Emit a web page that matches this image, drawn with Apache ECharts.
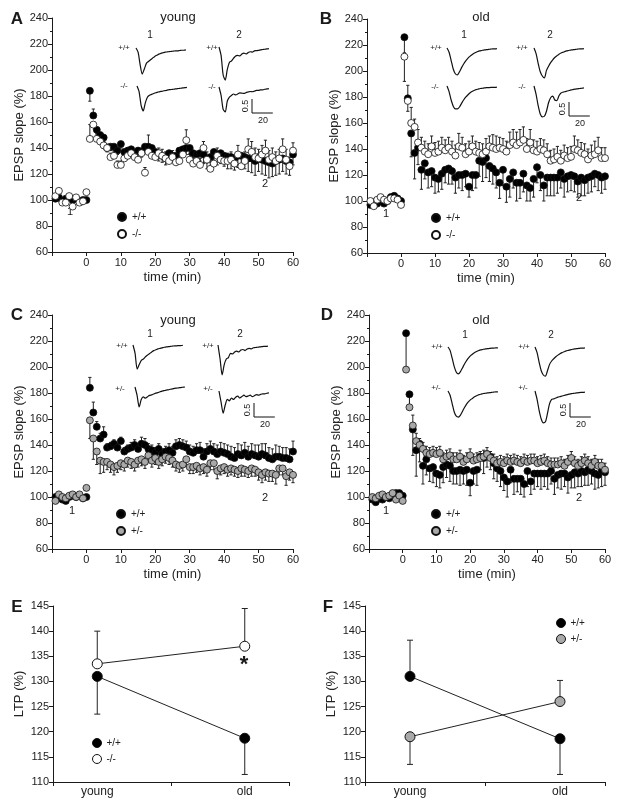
<!DOCTYPE html>
<html>
<head>
<meta charset="utf-8">
<script src="https://cdn.jsdelivr.net/npm/echarts@6/dist/echarts.min.js"></script>
<style>
  html, body { margin: 0; padding: 0; background: #fff; }
  #chart { width: 624px; height: 806px; }
</style>
</head>
<body>
<div id="chart"></div>
<script>
// time points (min): baseline -9..0, then 1..60
const times = [-9, -8, -7, -6, -5, -4, -3, -2, -1, 0,
  1, 2, 3, 4, 5, 6, 7, 8, 9, 10, 11, 12, 13, 14, 15, 16, 17, 18, 19, 20,
  21, 22, 23, 24, 25, 26, 27, 28, 29, 30, 31, 32, 33, 34, 35, 36, 37, 38, 39, 40,
  41, 42, 43, 44, 45, 46, 47, 48, 49, 50, 51, 52, 53, 54, 55, 56, 57, 58, 59, 60];

// panel A (young, +/+ vs -/-)
const aWt = [101, 102, 99, 101, 102, 100, 101, 99, 100, 100,
  184, 165, 154, 150, 148, 140, 141, 141, 138, 143, 137, 138, 139, 136, 138, 137, 141, 141, 140, 137,
  135, 134, 132, 136, 134, 134, 138, 139, 140, 140, 136, 135, 136, 135, 131, 133, 137, 135, 136, 134,
  133, 133, 132, 134, 134, 133, 132, 132, 130, 133, 131, 130, 129, 128, 130, 131, 132, 130, 129, 135];
const aWtErr = [-8, 5, -3, -3, -3, -3, -3, -3, -3, -3, -4, -4, -4, -5, -4, -4, -4, -4, -5, -5,
  -5, -5, -5, -5, -5, -5, -5, -5, -5, -5, -6, -6, -6, -7, -7, -7, -7, -8, -8, -8,
  -9, -9, -9, -9, -10, -9, -10, -11, -11, -11, -11, -11, -12, -10, -11, -11, -10, -10, -10, -8];
const aKo = [103, 107, 98, 98, 103, 95, 102, 98, 99, 106,
  147, 158, 147, 145, 142, 140, 133, 134, 127, 127, 132, 134, 136, 133, 131, 136, 121, 137, 134, 133,
  136, 134, 132, 130, 133, 129, 130, 135, 146, 131, 128, 130, 127, 140, 131, 124, 128, 134, 131, 130,
  130, 131, 128, 135, 126, 130, 139, 137, 133, 132, 135, 138, 131, 133, 130, 132, 139, 131, 126, 138];
const aKoErr = [11, 0, 3, 3, 3, 3, 3, 3, 3, 3, 3, 4, 4, 4, 5, 4, 4, 13, 5, 4,
  4, 5, 5, 5, 5, 5, 5, 5, 8, 5, 5, 5, 5, 5, 6, 6, 6, 6, 6, 6,
  6, 6, 6, 7, 7, 7, 8, 8, 7, 7, 7, 8, 7, 7, 7, 7, 8, 8, 7, 6];

// panel B (old, +/+ vs -/-)
const bWt = [97, 99, 98, 100, 98, 100, 103, 104, 102, 100,
  226, 179, 152, 137, 141, 124, 129, 122, 123, 118, 117, 121, 124, 125, 123, 118, 120, 120, 121, 111,
  120, 120, 131, 130, 133, 127, 125, 122, 114, 124, 111, 117, 122, 114, 114, 121, 112, 110, 117, 126,
  120, 112, 118, 118, 118, 118, 122, 117, 119, 120, 119, 115, 118, 116, 118, 119, 121, 120, 118, 119];
const bWtErr = [-12, -10, -18, -20, -13, -15, -12, -12, -12, -12, -10, -12, -10, -12, -10, -12, -10, -12, -10, -8,
  -12, -10, -12, -15, -15, -12, -12, -12, -12, -12, -12, -14, -12, -14, -12, -14, -12, -10, -14, -12,
  -12, -12, -14, -14, -14, -12, -12, -14, -12, -12, -12, -12, -14, -12, -12, -12, -10, -12, -12, -10];
const bKo = [100, 96, 101, 103, 101, 100, 102, 102, 101, 97,
  211, 177, 160, 157, 145, 141, 138, 136, 142, 137, 138, 141, 139, 141, 138, 135, 142, 141, 136, 138,
  142, 138, 137, 136, 138, 142, 141, 140, 141, 140, 138, 143, 145, 143, 145, 147, 140, 145, 139, 138,
  140, 139, 136, 131, 132, 134, 131, 135, 133, 134, 140, 139, 137, 136, 132, 135, 136, 139, 133, 133];
const bKoErr = [-19, 12, 12, 6, 10, 8, 8, 8, 8, 8, 8, 8, 8, 8, 8, 8, 10, 8, 8, 8,
  8, 8, 8, 8, 10, 8, 10, 10, 8, 8, 8, 10, 10, 10, 10, 10, 8, 10, 8, 8,
  8, 8, 8, 8, 8, 8, 8, 8, 8, 8, 10, 8, 8, 8, 8, 8, 10, 10, 8, 8];

// panel C (young, +/+ vs +/-)
const cWt = [100, 101, 98, 97, 100, 101, 100, 101, 99, 100,
  184, 165, 154, 145, 148, 138, 139, 141, 138, 143, 135, 137, 138, 140, 137, 141, 140, 137, 136, 134,
  137, 133, 135, 136, 134, 139, 140, 139, 138, 135, 134, 136, 136, 131, 135, 137, 135, 133, 135, 134,
  133, 131, 130, 133, 132, 134, 131, 133, 132, 131, 133, 132, 130, 129, 131, 131, 130, 130, 129, 135];
const cWtErr = [8, 8, 4, 4, 6, 3, 3, 3, 3, 3, 3, 3, 4, 4, 4, 5, 5, 4, 4, 4,
  4, 4, 4, 5, 5, 5, 5, 5, 5, 5, 5, 5, 6, 6, 6, 6, 6, 7, 7, 7,
  7, 8, 8, 8, 8, 8, 8, 8, 8, 9, 8, 9, 8, 8, 9, 8, 8, 8, 8, 8];
const cHet = [97, 102, 100, 99, 101, 102, 100, 102, 99, 107,
  159, 145, 135, 128, 127, 127, 125, 123, 124, 126, 125, 128, 127, 125, 128, 129, 127, 132, 128, 130,
  127, 129, 131, 130, 128, 125, 124, 125, 129, 123, 123, 124, 122, 123, 121, 126, 126, 120, 122, 123,
  121, 122, 121, 120, 122, 121, 120, 122, 121, 119, 117, 119, 118, 118, 117, 122, 122, 116, 119, 117];
const cHetErr = [-14, -16, -10, -10, -8, -6, -6, -6, -5, -5, -5, -5, -5, -5, -5, -5, -5, -5, -5, -5,
  -5, -5, -5, -5, -5, -5, -5, -5, -5, -5, -5, -5, -5, -5, -5, -5, -5, -6, -5, -5,
  -5, -5, -5, -5, -6, -5, -5, -6, -5, -6, -6, -6, -6, -6, -7, -5, -5, -7, -6, -6];

// panel D (old, +/+ vs +/-)
const dWt = [98, 96, 99, 98, 100, 99, 101, 103, 103, 101,
  226, 179, 152, 136, 141, 124, 129, 122, 123, 118, 117, 123, 125, 124, 120, 120, 121, 120, 121, 111,
  120, 121, 131, 130, 133, 131, 126, 122, 120, 115, 112, 121, 114, 114, 114, 110, 120, 112, 118, 118,
  118, 118, 118, 120, 114, 117, 118, 118, 115, 117, 119, 118, 120, 119, 121, 120, 118, 117, 120, 119];
const dWtErr = [-27, -12, -20, -20, -14, -14, -12, -10, -12, -10, -10, -12, -10, -12, -10, -10, -12, -10, -12, -10,
  -10, -12, -10, -12, -10, -10, -12, -10, -12, -10, -12, -10, -12, -10, -12, -10, -12, -10, -12, -10,
  -12, -10, -12, -10, -12, -10, -12, -10, -12, -10, -12, -10, -12, -10, -12, -10, -12, -10, -12, -10];
const dHet = [100, 99, 101, 102, 100, 101, 103, 98, 101, 97,
  198, 169, 155, 143, 140, 137, 134, 133, 134, 133, 134, 129, 131, 132, 129, 129, 131, 127, 129, 132,
  128, 129, 130, 131, 133, 130, 128, 126, 127, 126, 128, 127, 128, 127, 126, 128, 127, 128, 128, 126,
  127, 128, 126, 125, 125, 125, 126, 124, 127, 130, 126, 124, 126, 128, 126, 124, 127, 124, 124, 121];
const dHetErr = [0, 10, 8, 6, 5, 5, 5, 5, 5, 5, 5, 5, 5, 5, 5, 5, 5, 5, 5, 5,
  5, 5, 5, 5, 5, 5, 5, 5, 5, 5, 5, 5, 5, 5, 5, 5, 5, 5, 5, 5,
  5, 5, 5, 5, 5, 5, 5, 5, 5, 5, 5, 5, 5, 5, 5, 5, 5, 5, 5, 5];

// panels E and F (LTP %)
const ltpGroups = ['young', 'old'];
const ltpX = [0, 1];
const eWt = [131, 118.7];
const eWtErr = [-7.5, -7.2];
const eKo = [133.5, 137];
const eKoErr = [6.5, 7.5];
const fWt = [131, 118.6];
const fWtErr = [7.2, -7.1];
const fHet = [119, 126];
const fHetErr = [-5.5, 4.2];

// inset EPSP traces (mV), sampled every 2 ms
const traceMs = [0, 2, 4, 6, 8, 10, 12, 14, 16, 18, 20, 22, 24, 26, 28, 30, 32, 34, 36, 38, 40, 42, 44, 46, 48];
const trA1wt = [0, -0.15, -0.6, -0.93, -0.75, -0.55, -0.48, -0.42, -0.36, -0.3, -0.26, -0.22, -0.19, -0.17, -0.15, -0.14, -0.13, -0.12, -0.11, -0.1, -0.1, -0.09, -0.08, -0.08, -0.07];
const trA1ko = [0, -0.2, -0.7, -0.89, -0.6, -0.4, -0.33, -0.3, -0.27, -0.24, -0.22, -0.2, -0.19, -0.17, -0.16, -0.14, -0.13, -0.12, -0.11, -0.1, -0.09, -0.08, -0.07, -0.06, -0.05];
const trA2wt = [0, -0.3, -1.0, -1.18, -0.8, -0.55, -0.5, -0.4, -0.32, -0.3, -0.32, -0.25, -0.22, -0.25, -0.2, -0.17, -0.18, -0.14, -0.13, -0.12, -0.1, -0.09, -0.08, -0.07, -0.06];
const trA2ko = [0, -0.3, -0.8, -0.89, -0.5, -0.36, -0.3, -0.25, -0.28, -0.25, -0.21, -0.22, -0.23, -0.2, -0.18, -0.16, -0.17, -0.15, -0.12, -0.12, -0.1, -0.1, -0.08, -0.07, -0.06];
const trB1wt = [0, -0.15, -0.45, -0.75, -0.92, -0.96, -0.85, -0.7, -0.57, -0.46, -0.37, -0.3, -0.24, -0.19, -0.15, -0.12, -0.1, -0.08, -0.07, -0.06, -0.05, -0.04, -0.03, -0.03, -0.02];
const trB1ko = [0, -0.2, -0.5, -0.72, -0.82, -0.82, -0.75, -0.62, -0.5, -0.4, -0.32, -0.25, -0.2, -0.16, -0.13, -0.11, -0.09, -0.08, -0.07, -0.06, -0.06, -0.05, -0.05, -0.05, -0.04];
const trB2wt = [0, -0.2, -0.55, -0.85, -1.0, -1.07, -0.8, -0.65, -0.52, -0.42, -0.34, -0.28, -0.22, -0.18, -0.15, -0.12, -0.1, -0.08, -0.07, -0.06, -0.05, -0.04, -0.03, -0.03, -0.02];
const trB2ko = [0, -0.3, -0.7, -1.0, -1.1, -1.08, -0.9, -0.6, -0.42, -0.36, -0.5, -0.52, -0.35, -0.25, -0.22, -0.2, -0.18, -0.16, -0.14, -0.12, -0.11, -0.1, -0.09, -0.08, -0.07];
const trC1wt = [0, -0.3, -0.86, -0.7, -0.55, -0.5, -0.42, -0.36, -0.3, -0.25, -0.2, -0.17, -0.14, -0.12, -0.1, -0.08, -0.07, -0.06, -0.05, -0.04, -0.03, -0.03, -0.02, -0.02, -0.01];
const trC1het = [0, -0.3, -0.71, -0.45, -0.35, -0.4, -0.35, -0.3, -0.28, -0.25, -0.22, -0.2, -0.17, -0.15, -0.13, -0.11, -0.1, -0.08, -0.07, -0.05, -0.04, -0.03, -0.02, -0.01, 0];
const trC2wt = [0, -0.5, -1.07, -0.7, -0.5, -0.45, -0.3, -0.32, -0.25, -0.22, -0.25, -0.18, -0.16, -0.2, -0.14, -0.12, -0.14, -0.1, -0.09, -0.08, -0.07, -0.06, -0.05, -0.05, -0.04];
const trC2het = [0, -0.4, -0.79, -0.5, -0.3, -0.35, -0.25, -0.3, -0.22, -0.18, -0.25, -0.2, -0.15, -0.2, -0.18, -0.15, -0.2, -0.17, -0.13, -0.15, -0.12, -0.1, -0.1, -0.08, -0.07];
const trD1wt = [0, -0.12, -0.4, -0.7, -0.9, -0.96, -0.88, -0.74, -0.6, -0.48, -0.38, -0.3, -0.24, -0.19, -0.15, -0.12, -0.1, -0.08, -0.07, -0.06, -0.05, -0.04, -0.04, -0.03, -0.03];
const trD1het = [0, -0.15, -0.45, -0.75, -0.9, -0.93, -0.86, -0.72, -0.58, -0.46, -0.37, -0.3, -0.25, -0.2, -0.16, -0.13, -0.11, -0.09, -0.08, -0.07, -0.06, -0.05, -0.04, -0.03, -0.03];
const trD2wt = [0, -0.2, -0.55, -0.85, -1.0, -1.04, -0.85, -0.62, -0.5, -0.42, -0.35, -0.29, -0.24, -0.2, -0.17, -0.14, -0.12, -0.1, -0.08, -0.07, -0.06, -0.05, -0.04, -0.04, -0.03];
const trD2het = [0, -0.3, -0.7, -1.0, -1.14, -1.1, -0.8, -0.45, -0.3, -0.28, -0.25, -0.22, -0.2, -0.18, -0.16, -0.14, -0.12, -0.1, -0.09, -0.08, -0.07, -0.06, -0.05, -0.05, -0.04];
// scale bar: 20 ms, 0.5 mV
const scaleX = [0, 0, 20];
const scaleY = [0.5, 0, 0];

const FONT = '"Liberation Sans", Arial, sans-serif';
const INK = '#1a1a1a';
const PX_MS = 1.04;
const PX_MV = 28;

const option = {
  animation: false,
  backgroundColor: '#fff',
  grid: [], xAxis: [], yAxis: [], series: [], legend: [], graphic: []
};

function addGrid(box, xa, ya) {
  option.grid.push(Object.assign({ outerBoundsMode: 'none', containLabel: false }, box));
  const gi = option.grid.length - 1;
  option.xAxis.push(Object.assign({ gridIndex: gi }, xa));
  option.yAxis.push(Object.assign({ gridIndex: gi }, ya));
  return gi;
}

function axisStyle(extra) {
  return Object.assign({
    type: 'value',
    axisLine: { show: true, onZero: false, lineStyle: { color: INK, width: 1 } },
    axisTick: { show: true, length: 4, lineStyle: { color: INK } },
    axisLabel: { color: '#222', fontSize: 11, fontFamily: FONT, margin: 4 },
    splitLine: { show: false },
    nameTextStyle: { color: '#222', fontSize: 13, fontFamily: FONT }
  }, extra);
}

function errSeries(gi, xs, ys, errs, offset, cap) {
  const data = [];
  errs.forEach((e, k) => { if (e) data.push([xs[k + offset], ys[k + offset], e]); });
  return {
    type: 'custom', xAxisIndex: gi, yAxisIndex: gi, z: 1, silent: true, clip: false,
    data: data, encode: { x: 0, y: 1 },
    renderItem: function (params, api) {
      const x = api.value(0), y = api.value(1), e = api.value(2);
      const a = api.coord([x, y]);
      const b = api.coord([x, y + e]);
      const st = { stroke: '#222', lineWidth: 1 };
      return {
        type: 'group', children: [
          { type: 'line', shape: { x1: a[0], y1: a[1], x2: b[0], y2: b[1] }, style: st },
          { type: 'line', shape: { x1: b[0] - cap, y1: b[1], x2: b[0] + cap, y2: b[1] }, style: st }
        ]
      };
    }
  };
}

function epspPanel(box, groups, legendPos) {
  const gi = addGrid(box,
    axisStyle({
      min: -10, max: 60, interval: 10,
      axisLabel: { color: '#222', fontSize: 11, fontFamily: FONT, margin: 5, formatter: v => (v < 0 ? '' : v) },
      name: 'time (min)', nameLocation: 'middle', nameGap: 19
    }),
    axisStyle({
      min: 60, max: 240, interval: 20,
      minorTick: { show: true, splitNumber: 2, length: 2, lineStyle: { color: INK } },
      name: 'EPSP slope (%)', nameLocation: 'middle', nameGap: 26
    }));
  groups.forEach(g => {
    option.series.push(errSeries(gi, times, g.vals, g.errs, 10, 1.6));
    option.series.push({
      type: 'scatter', name: g.name, xAxisIndex: gi, yAxisIndex: gi, z: 3,
      symbol: 'circle', symbolSize: 7,
      itemStyle: { color: g.fill, borderColor: '#111', borderWidth: 0.8, opacity: 1 },
      data: times.map((t, k) => [t, g.vals[k]])
    });
  });
  option.legend.push({
    left: legendPos[0], top: legendPos[1], orient: 'vertical', padding: 0,
    itemGap: 7, itemWidth: 8, itemHeight: 8, selectedMode: false,
    textStyle: { color: '#222', fontSize: 10, fontFamily: FONT, padding: [0, 0, 0, 1] },
    data: groups.map(g => g.name)
  });
}

function ltpPanel(box, groups, legendPos) {
  const gi = addGrid(box,
    axisStyle({
      min: -0.3, max: 1.3, interval: 0.8,
      axisTick: { show: true, length: 4, lineStyle: { color: INK } },
      axisLabel: {
        color: '#222', fontSize: 12, fontFamily: FONT, margin: 4,
        customValues: ltpX, formatter: v => ltpGroups[Math.round(v)]
      }
    }),
    axisStyle({
      min: 110, max: 145, interval: 5,
      name: 'LTP (%)', nameLocation: 'middle', nameGap: 27
    }));
  groups.forEach(g => {
    option.series.push(errSeries(gi, ltpX, g.vals, g.errs, 0, 3));
    option.series.push({
      type: 'line', name: g.name, xAxisIndex: gi, yAxisIndex: gi, z: 3,
      symbol: 'circle', symbolSize: 10, showSymbol: true,
      lineStyle: { color: '#222', width: 1 },
      itemStyle: { color: g.fill, borderColor: '#111', borderWidth: 1 },
      data: ltpX.map((x, k) => [x, g.vals[k]])
    });
  });
  option.legend.push({
    left: legendPos[0], top: legendPos[1], orient: 'vertical', padding: 0,
    itemGap: 6, itemWidth: 9, itemHeight: 9, selectedMode: false,
    textStyle: { color: '#222', fontSize: 10, fontFamily: FONT },
    data: groups.map(g => ({ name: g.name, icon: 'circle', itemStyle: { color: g.fill, borderColor: '#111', borderWidth: 1 } }))
  });
}

function trace(left, startY, vals) {
  const gi = addGrid({ left: left, top: startY - 0.1 * PX_MV, width: 48 * PX_MS, height: 1.35 * PX_MV },
    { type: 'value', min: 0, max: 48, show: false },
    { type: 'value', min: -1.25, max: 0.1, show: false });
  option.series.push({
    type: 'line', xAxisIndex: gi, yAxisIndex: gi, silent: true, clip: false,
    symbol: 'none', smooth: 0.25,
    lineStyle: { color: '#111', width: 1.2 },
    data: traceMs.map((t, k) => [t, vals[k]])
  });
}

function scaleBar(cx, cy) {
  const gi = addGrid({ left: cx, top: cy - 0.5 * PX_MV, width: 20 * PX_MS, height: 0.5 * PX_MV },
    { type: 'value', min: 0, max: 20, show: false },
    { type: 'value', min: 0, max: 0.5, show: false });
  option.series.push({
    type: 'line', xAxisIndex: gi, yAxisIndex: gi, silent: true, clip: false, symbol: 'none',
    lineStyle: { color: '#111', width: 1 },
    data: scaleX.map((x, k) => [x, scaleY[k]])
  });
  label('0.5', cx - 6, cy - 7, 9, false, Math.PI / 2);
  label('20', cx + 11, cy + 8, 9);
}

function label(text, x, y, size, bold, rot) {
  option.graphic.push({
    type: 'text', x: x, y: y, rotation: rot || 0, silent: true,
    style: {
      text: text, fill: '#1a1a1a', textAlign: 'center', textVerticalAlign: 'middle',
      font: (bold ? 'bold ' : '') + size + 'px ' + FONT
    }
  });
}

const BLACK = '#000', WHITE = '#fff', GREY = '#a9a9a9';

// main time-course panels
epspPanel({ left: 52, top: 18, width: 241, height: 234 },
  [{ name: '+/+', vals: aWt, errs: aWtErr, fill: BLACK }, { name: '-/-', vals: aKo, errs: aKoErr, fill: WHITE }],
  [117, 212]);
epspPanel({ left: 367, top: 19, width: 238, height: 234 },
  [{ name: '+/+', vals: bWt, errs: bWtErr, fill: BLACK }, { name: '-/-', vals: bKo, errs: bKoErr, fill: WHITE }],
  [431, 213]);
epspPanel({ left: 52, top: 315, width: 241, height: 234 },
  [{ name: '+/+', vals: cWt, errs: cWtErr, fill: BLACK }, { name: '+/-', vals: cHet, errs: cHetErr, fill: GREY }],
  [116, 509]);
epspPanel({ left: 369, top: 315, width: 236, height: 234 },
  [{ name: '+/+', vals: dWt, errs: dWtErr, fill: BLACK }, { name: '+/-', vals: dHet, errs: dHetErr, fill: GREY }],
  [431, 509]);

// LTP summary panels
ltpPanel({ left: 53, top: 606, width: 236, height: 176 },
  [{ name: '+/+', vals: eWt, errs: eWtErr, fill: BLACK }, { name: '-/-', vals: eKo, errs: eKoErr, fill: WHITE }],
  [92, 738]);
ltpPanel({ left: 365, top: 606, width: 240, height: 176 },
  [{ name: '+/+', vals: fWt, errs: fWtErr, fill: BLACK }, { name: '+/-', vals: fHet, errs: fHetErr, fill: GREY }],
  [556, 618]);

// inset traces
trace(136, 48, trA1wt); trace(137, 86, trA1ko); trace(219, 47, trA2wt); trace(219, 87, trA2ko);
trace(447, 48, trB1wt); trace(447, 86, trB1ko); trace(534, 48, trB2wt); trace(534, 86, trB2ko);
trace(133, 345, trC1wt); trace(135, 387, trC1het); trace(218, 345, trC2wt); trace(219, 391, trC2het);
trace(448, 347, trD1wt); trace(448, 391, trD1het); trace(535, 347, trD2wt); trace(535, 391, trD2het);
scaleBar(252, 113); scaleBar(569, 116); scaleBar(254, 417); scaleBar(570, 417);

// panel letters and titles
label('A', 17, 19, 17, true); label('B', 326, 19, 17, true);
label('C', 17, 315, 17, true); label('D', 327, 315, 17, true);
label('E', 17, 607, 17, true); label('F', 328, 607, 17, true);
label('young', 178, 17, 13); label('old', 481, 17, 13);
label('young', 178, 320, 13); label('old', 481, 320, 13);

// trace annotations
[[150, 35, '1'], [239, 35, '2'], [464, 35, '1'], [550, 35, '2'],
 [150, 334, '1'], [240, 334, '2'], [465, 335, '1'], [551, 335, '2']].forEach(p => label(p[2], p[0], p[1], 10));
[[124, 48, '+/+'], [124, 86, '-/-'], [212, 48, '+/+'], [212, 87, '-/-'],
 [436, 48, '+/+'], [435, 87, '-/-'], [522, 48, '+/+'], [522, 87, '-/-'],
 [122, 346, '+/+'], [120, 389, '+/-'], [208, 346, '+/+'], [208, 389, '+/-'],
 [437, 347, '+/+'], [436, 388, '+/-'], [524, 347, '+/+'], [523, 388, '+/-']].forEach(p => label(p[2], p[0], p[1], 8));
// sampling-point labels in main plots
[[70, 212, '1'], [265, 184, '2'], [386, 214, '1'], [579, 198, '2'],
 [72, 511, '1'], [265, 498, '2'], [386, 511, '1'], [579, 498, '2']].forEach(p => label(p[2], p[0], p[1], 11));
label('*', 244, 665, 22, true);

const chart = echarts.init(document.getElementById('chart'), null, { renderer: 'canvas' });
chart.setOption(option);
</script>
</body>
</html>
